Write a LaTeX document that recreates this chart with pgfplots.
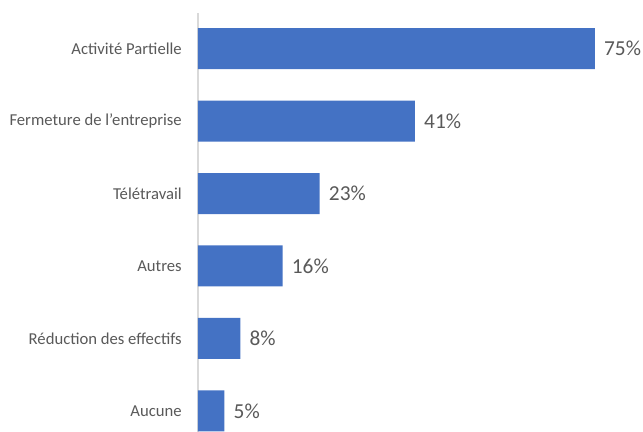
\documentclass[border=0pt]{standalone}
\usepackage{fontspec}
\setmainfont{Carlito}
\usepackage{pgfplots}
\pgfplotsset{compat=1.18}
\definecolor{barblue}{HTML}{4472C4}
\definecolor{txtgray}{HTML}{595959}
\definecolor{axgray}{HTML}{D9D9D9}

\begin{document}
\begin{tikzpicture}
  % fixed page box: 643x432 px at 0.75pt per px
  \path[use as bounding box] (-148.5pt,0pt) rectangle (333.75pt,324pt);
  \begin{axis}[
      at={(0pt,0pt)}, anchor=south west,
      scale only axis,
      width=333.75pt, height=314.25pt,
      xbar,
      bar width=30.75pt,
      y dir=reverse,
      xmin=0, xmax=84.1,
      ymin=-0.49, ymax=5.29,
      axis x line=none,
      axis y line=left,
      y axis line style={draw=axgray, line width=0.8pt, -},
      ytick={0,1,2,3,4,5},
      yticklabels={Activité Partielle, Fermeture de l’entreprise, Télétravail,
                   Autres, Réduction des effectifs, Aucune},
      major tick length=0pt,
      yticklabel style={font=\fontsize{12.5}{14}\selectfont, text=txtgray,
                        inner sep=0pt, xshift=-12pt},
      /pgf/number format/assume math mode=true,
      nodes near coords={\pgfmathprintnumber{\pgfplotspointmeta}\%},
      nodes near coords style={font=\fontsize{16}{18}\selectfont, text=txtgray,
                               anchor=west, inner sep=0pt, xshift=6.75pt},
      clip=false,
    ]
    \addplot[fill=barblue, draw=none] coordinates {
      (75,0) (41,1) (23,2) (16,3) (8,4) (5,5)
    };
  \end{axis}
\end{tikzpicture}
\end{document}
